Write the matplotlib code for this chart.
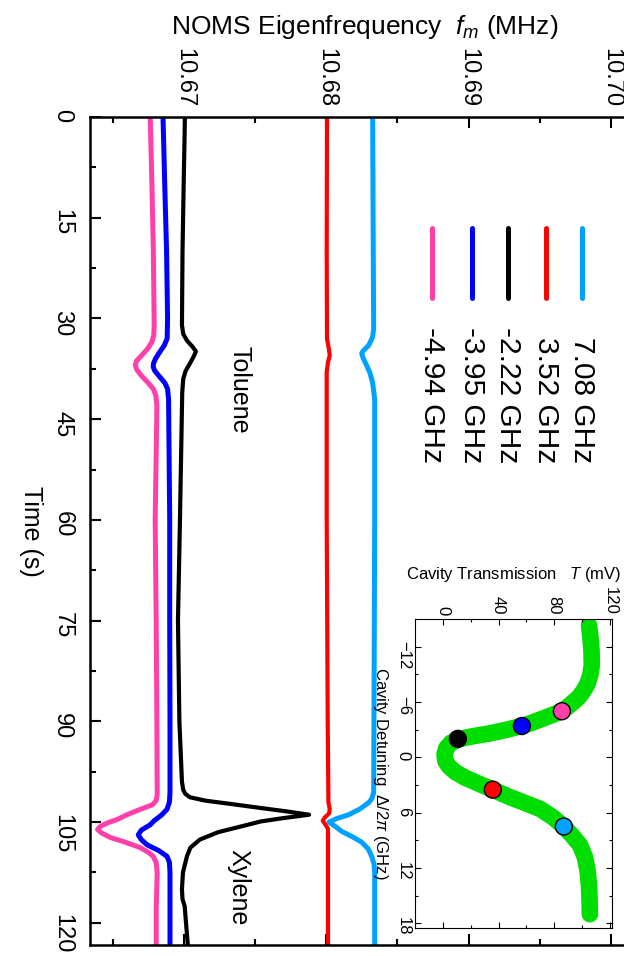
import numpy as np
import matplotlib.pyplot as plt

plt.rcParams['font.family'] = ['Liberation Sans', 'DejaVu Sans']
plt.rcParams['mathtext.fontset'] = 'custom'
plt.rcParams['mathtext.rm'] = 'Liberation Sans'
plt.rcParams['mathtext.it'] = 'Liberation Sans:italic'

# cavity detuning of each trace (legend)
labels = ['-4.94 GHz', '-3.95 GHz', '-2.22 GHz', '3.52 GHz', '7.08 GHz']
colors = ['#ff40aa', '#0000ff', '#000000', '#ff0000', '#00a2ff']

# NOMS eigenfrequency traces, time (s) / frequency (MHz)
t_pink = [0, 10, 20, 31, 32.5, 33.5, 34.5, 35.5, 36.3, 36.9, 37.6, 38.5, 39.5, 40.5,
          41.5, 43, 60, 75, 90, 101, 101.8, 102.4, 103.1, 103.9, 104.6, 105.1, 105.6,
          106.1, 106.6, 107.3, 108, 108.8, 109.5, 110.1, 111, 112.5, 118, 123.5]
f_pink = [10.66763, 10.66775, 10.66785, 10.66791, 10.66788, 10.66775, 10.66745,
          10.66703, 10.66668, 10.66658, 10.66668, 10.66700, 10.66745, 10.66785,
          10.66803, 10.66810, 10.66798, 10.66805, 10.66810, 10.66812, 10.66805,
          10.66780, 10.66693, 10.66600, 10.66532, 10.66465, 10.66415, 10.66393,
          10.66420, 10.66484, 10.66590, 10.66693, 10.66750, 10.66784, 10.66805,
          10.66812, 10.66805, 10.66805]

t_blue = [0, 10, 20, 30, 33, 34, 35, 36, 36.7, 37.2, 37.8, 38.7, 39.6, 40.5, 42, 60,
          75, 90, 100.6, 102, 103.1, 104, 104.8, 105.4, 106.2, 106.9, 107.6, 108.4,
          109.2, 110.1, 111, 112.5, 118, 123.5]
f_blue = [10.66853, 10.66865, 10.66878, 10.66885, 10.66882, 10.66862, 10.66830,
          10.66800, 10.66786, 10.66784, 10.66795, 10.66830, 10.66866, 10.66885,
          10.66892, 10.66900, 10.66900, 10.66902, 10.66902, 10.66898, 10.66881,
          10.66840, 10.66790, 10.66763, 10.66700, 10.66679, 10.66700, 10.66742,
          10.66820, 10.66881, 10.66898, 10.66902, 10.66902, 10.66902]

t_black = [0, 10, 20, 31, 32.3, 33.3, 34.2, 34.9, 35.6, 36.7, 37.8, 39, 41, 60, 75,
           90, 99, 100.2, 100.8, 101.3, 101.8, 102.3, 102.9, 103.4, 103.9, 104.4,
           104.9, 105.7, 106.5, 107.6, 108.8, 110.1, 112.5, 115, 116.5, 117.5, 123.5]
f_black = [10.67007, 10.66998, 10.66990, 10.66986, 10.66995, 10.67021, 10.67060,
           10.67084, 10.67070, 10.67042, 10.67012, 10.66995, 10.66988, 10.66972,
           10.66958, 10.66968, 10.66986, 10.66995, 10.67010, 10.67042, 10.67150,
           10.67330, 10.67540, 10.67720, 10.67879, 10.67700, 10.67540, 10.67391,
           10.67240, 10.67112, 10.67045, 10.67021, 10.66993, 10.66986, 10.66990,
           10.67005, 10.67028]

t_red = [0, 20, 33, 34.5, 35.5, 36.5, 38, 60, 90, 102, 103, 103.7, 104.3, 104.8,
         105.4, 106, 115, 123.5]
f_red = [10.68005, 10.68003, 10.68005, 10.68018, 10.68024, 10.68012, 10.68003,
         10.68003, 10.68010, 10.68015, 10.68024, 10.68020, 10.67990, 10.67975,
         10.67995, 10.68012, 10.68012, 10.68012]

t_cyan = [0, 20, 31.5, 32.8, 34, 34.8, 35.2, 35.8, 36.7, 38, 39.5, 42, 60, 90, 100.6,
          101.5, 102.1, 103, 103.9, 104.5, 105, 105.6, 106.4, 107.2, 108, 109, 110.1,
          111.2, 112.5, 123.5]
f_cyan = [10.68326, 10.68330, 10.68333, 10.68325, 10.68298, 10.68260, 10.68249,
          10.68257, 10.68277, 10.68305, 10.68325, 10.68340, 10.68340, 10.68335,
          10.68333, 10.68320, 10.68298, 10.68240, 10.68158, 10.68070, 10.68019,
          10.68060, 10.68110, 10.68185, 10.68249, 10.68295, 10.68319, 10.68335,
          10.68340, 10.68340]

times = [t_pink, t_blue, t_black, t_red, t_cyan]
freqs = [f_pink, f_blue, f_black, f_red, f_cyan]
widths = [3.6, 3.6, 3.0, 3.0, 3.6]

# inset: cavity transmission curve (detuning GHz, T mV)
curve_det = [-14.3, -13, -11.5, -10, -9, -8, -7.2, -6.5, -5.9, -5.4, -5.0, -4.5, -4.1,
             -3.7, -3.4, -3.0, -2.6, -2.3, -2.0, -1.6, -1.0, -0.3, 0.4, 1.0, 1.6, 2.2,
             2.8, 3.5, 4.3, 5.0, 5.6, 6.5, 7.5, 8.5, 9.5, 10.8, 12.3, 14, 15.5, 17]
curve_T = [105, 106, 106.8, 107, 106, 104, 101, 97.5, 93, 89, 85.5, 77, 70, 63, 56.8,
           46, 34, 22, 12, 6, 2.5, 1.2, 1.8, 4.5, 9, 16, 25, 35.9, 48, 60, 70, 79,
           86.9, 93, 98.5, 102, 104, 105, 105.4, 105.6]
dot_det = [-5.0, -3.4, -2.0, 3.5, 7.5]
dot_T = [85.5, 56.8, 10.8, 35.9, 86.9]

fig = plt.figure(figsize=(6.24, 9.56), dpi=100)
ax = fig.add_axes([90/624, 11/956, 550/624, 828/956])

for t, f, c, w in zip(times, freqs, colors, widths):
    ax.plot(f, t, color=c, lw=w, solid_joinstyle='round', solid_capstyle='round')

ax.set_xlim(10.66340, 10.70204)
ax.set_ylim(123.3, 0)
for s in ax.spines.values():
    s.set_linewidth(1.8)

ax.set_xticks([10.67, 10.68, 10.69, 10.70])
ax.set_xticklabels(['10.67', '10.68', '10.69', '10.70'])
ax.set_xticks([10.665, 10.675, 10.685, 10.695], minor=True)
ax.set_yticks(np.arange(0, 121, 15))
ax.set_yticks(np.arange(7.5, 123, 15), minor=True)
ax.tick_params(which='both', direction='in', top=True, bottom=True, left=True, right=True,
               labeltop=True, labelbottom=False, width=1.5)
ax.tick_params(which='major', length=8)
ax.tick_params(which='minor', length=4.5)
ax.tick_params(axis='x', labelsize=17, labelrotation=-90, pad=7)
ax.tick_params(axis='y', labelsize=17, labelrotation=-90, pad=12)

ax.xaxis.set_label_position('top')
ax.set_xlabel('NOMS Eigenfrequency  $f_m$ (MHz)', fontsize=19, labelpad=10)
# rotated -90: the text's top faces the axis
ax.set_ylabel('Time (s)', fontsize=18, rotation=-90, labelpad=6, va='top')

ax.text(0.272, 0.670, 'Toluene', transform=ax.transAxes, rotation=-90,
        fontsize=18, ha='center', va='center')
ax.text(0.27, 0.0695, 'Xylene', transform=ax.transAxes, rotation=-90,
        fontsize=18, ha='center', va='center')

# legend drawn by hand, rotated with the rest of the chart
leg_x = [432, 472, 508, 546, 582]
for xp, c, lab in zip(leg_x, colors, labels):
    xf = (xp - 90) / 550
    ax.plot([xf, xf], [1 - (228-117)/828, 1 - (298-117)/828], color=c, lw=3.6,
            transform=ax.transAxes, solid_capstyle='round')
    ax.text(xf, 1 - (463-117)/828, lab, transform=ax.transAxes, rotation=-90,
            fontsize=21.5, ha='center', va='bottom')

# inset
axin = fig.add_axes([415/624, 28/956, 197/624, 309/956])
axin.plot(curve_T, curve_det, color='#00dd00', lw=12, solid_capstyle='round',
          solid_joinstyle='round', zorder=1)
axin.scatter(dot_T, dot_det, s=150, c=colors, edgecolors='black', linewidths=1, zorder=2)
axin.set_xlim(-20, 121.5)
axin.set_ylim(18.5, -15)
axin.set_xticks([0, 40, 80, 120])
axin.set_xticks([20, 60, 100], minor=True)
axin.set_yticks([-12, -6, 0, 6, 12, 18])
axin.set_yticks([-9, -3, 3, 9, 15], minor=True)
axin.tick_params(which='both', direction='in', top=True, bottom=True, left=True, right=True,
                 labeltop=True, labelbottom=False, width=0.8, labelsize=12)
axin.tick_params(which='major', length=4)
axin.tick_params(which='minor', length=2.5)
axin.tick_params(axis='x', labelrotation=-90, pad=3)
axin.tick_params(axis='y', labelrotation=-90, pad=3)
axin.xaxis.set_label_position('top')
axin.set_xlabel('Cavity Transmission   $T$ (mV)', fontsize=12, labelpad=6)
axin.set_ylabel('Cavity Detuning  $\\Delta/2\\pi$ (GHz)', fontsize=12, rotation=-90,
                labelpad=4, va='top')

fig.savefig('out.png', dpi=100)
